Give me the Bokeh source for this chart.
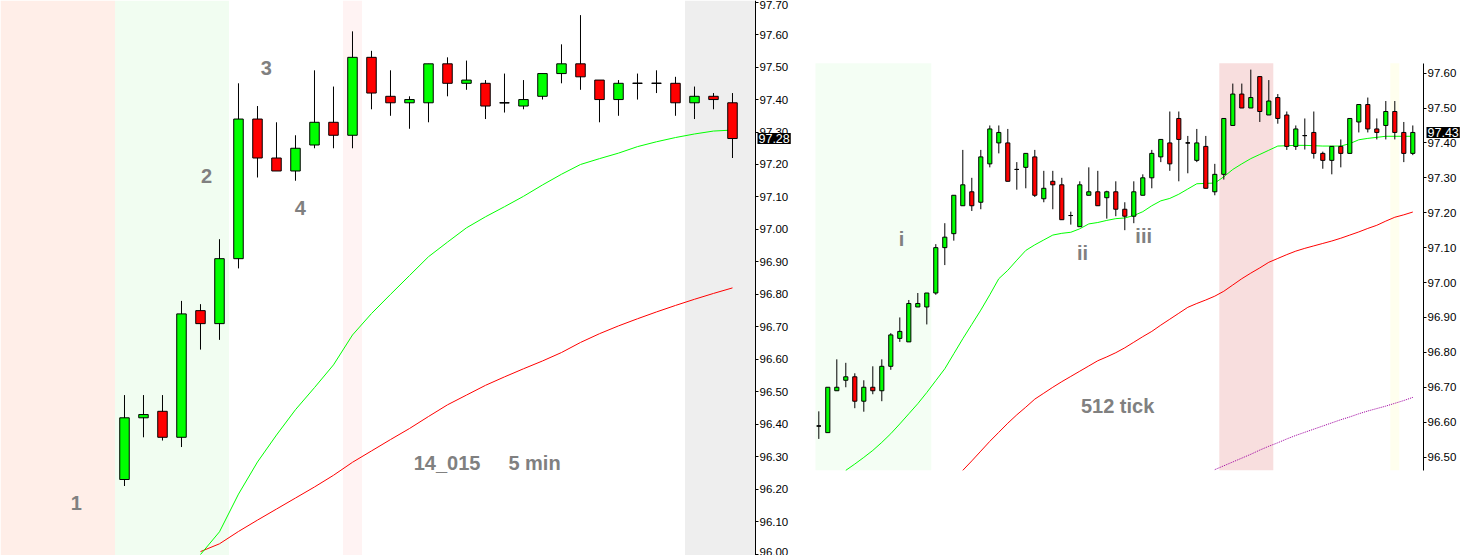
from bokeh.plotting import figure
from bokeh.models import (BoxAnnotation, Label, FixedTicker, PrintfTickFormatter,
                          Range1d, ColumnDataSource)
from bokeh.layouts import row
from bokeh.embed import file_html
from bokeh.resources import INLINE

# ---------------- data: left panel (5 min) ----------------
left_open = [96.23, 96.42, 96.44, 96.36, 96.75, 96.71, 96.91, 97.34, 97.22, 97.18, 97.26,
             97.33, 97.29, 97.53, 97.41, 97.39, 97.39, 97.51, 97.45, 97.45, 97.39, 97.38,
             97.41, 97.48, 97.51, 97.46, 97.40, 97.45, 97.45, 97.45, 97.39, 97.41, 97.39]
left_high = [96.49, 96.49, 96.49, 96.78, 96.77, 96.97, 97.45, 97.38, 97.33, 97.29, 97.49,
             97.44, 97.61, 97.55, 97.49, 97.41, 97.51, 97.53, 97.52, 97.46, 97.48, 97.46,
             97.48, 97.57, 97.66, 97.46, 97.46, 97.48, 97.49, 97.47, 97.44, 97.42, 97.42]
left_low = [96.21, 96.36, 96.35, 96.33, 96.63, 96.66, 96.88, 97.16, 97.18, 97.15, 97.25,
            97.25, 97.25, 97.37, 97.35, 97.31, 97.33, 97.41, 97.43, 97.34, 97.36, 97.37,
            97.40, 97.45, 97.43, 97.33, 97.35, 97.40, 97.42, 97.35, 97.34, 97.37, 97.22]
left_close = [96.42, 96.43, 96.36, 96.74, 96.71, 96.91, 97.34, 97.22, 97.18, 97.25, 97.33,
              97.29, 97.53, 97.42, 97.39, 97.40, 97.51, 97.45, 97.46, 97.38, 97.39, 97.40,
              97.48, 97.51, 97.47, 97.40, 97.45, 97.45, 97.45, 97.39, 97.41, 97.40, 97.28]
left_ma_start = 4
left_ma_fast = [95.999, 96.069, 96.185, 96.284, 96.367, 96.445, 96.513, 96.583, 96.675,
                96.741, 96.80, 96.858, 96.916, 96.961, 97.005, 97.039, 97.07, 97.102,
                97.137, 97.170, 97.20, 97.218, 97.235, 97.255, 97.27, 97.283, 97.294,
                97.303, 97.306]
left_ma_slow = [96.008, 96.032, 96.07, 96.105, 96.139, 96.173, 96.207, 96.243, 96.283,
                96.318, 96.353, 96.387, 96.424, 96.46, 96.49, 96.52, 96.546, 96.571,
                96.595, 96.621, 96.652, 96.679, 96.703, 96.725, 96.746, 96.766, 96.785,
                96.803, 96.82]
left_ticks = [96.0, 96.1, 96.2, 96.3, 96.4, 96.5, 96.6, 96.7, 96.8, 96.9, 97.0,
              97.1, 97.2, 97.3, 97.4, 97.5, 97.6, 97.7]
left_last = 97.28

# ---------------- data: right panel (512 tick) ----------------
right_open = [96.589, 96.57, 96.69, 96.72, 96.73, 96.66, 96.70, 96.69, 96.76, 96.84, 96.83,
              96.93, 96.93, 96.97, 97.10, 97.14, 97.22, 97.26, 97.23, 97.34, 97.40, 97.40,
              97.324, 97.33, 97.36, 97.24, 97.29, 97.28, 97.192, 97.16, 97.25, 97.26, 97.243,
              97.26, 97.21, 97.19, 97.25, 97.30, 97.36, 97.40, 97.47, 97.40, 97.35, 97.39,
              97.26, 97.31, 97.45, 97.54, 97.50, 97.59, 97.48, 97.53, 97.48, 97.39, 97.421,
              97.43, 97.37, 97.35, 97.39, 97.37, 97.46, 97.51, 97.44, 97.45, 97.49, 97.43, 97.37]
right_high = [96.631, 96.70, 96.78, 96.77, 96.74, 96.72, 96.76, 96.78, 96.855, 96.90, 96.95,
              96.97, 96.97, 97.11, 97.17, 97.25, 97.38, 97.30, 97.38, 97.45, 97.45, 97.44,
              97.345, 97.37, 97.38, 97.32, 97.32, 97.30, 97.203, 97.29, 97.33, 97.32, 97.263,
              97.29, 97.23, 97.29, 97.31, 97.38, 97.41, 97.49, 97.49, 97.42, 97.44, 97.42,
              97.34, 97.47, 97.57, 97.57, 97.61, 97.59, 97.58, 97.54, 97.49, 97.45, 97.47,
              97.49, 97.375, 97.39, 97.41, 97.47, 97.51, 97.53, 97.47, 97.52, 97.52, 97.46, 97.45]
right_low = [96.552, 96.57, 96.69, 96.70, 96.64, 96.63, 96.68, 96.66, 96.75, 96.83, 96.83,
             96.93, 96.88, 96.965, 97.05, 97.12, 97.22, 97.205, 97.21, 97.33, 97.37, 97.29,
             97.266, 97.27, 97.245, 97.23, 97.21, 97.18, 97.166, 97.16, 97.25, 97.22, 97.183,
             97.19, 97.15, 97.17, 97.25, 97.27, 97.345, 97.32, 97.29, 97.313, 97.345, 97.27,
             97.25, 97.295, 97.45, 97.50, 97.50, 97.46, 97.48, 97.455, 97.38, 97.38, 97.381,
             97.355, 97.326, 97.31, 97.33, 97.37, 97.43, 97.43, 97.41, 97.41, 97.41, 97.345, 97.365]
right_close = [96.589, 96.70, 96.70, 96.73, 96.66, 96.70, 96.69, 96.76, 96.85, 96.86, 96.94,
               96.94, 96.97, 97.10, 97.13, 97.25, 97.28, 97.22, 97.36, 97.44, 97.43, 97.29,
               97.324, 97.37, 97.25, 97.27, 97.28, 97.18, 97.192, 97.28, 97.26, 97.22, 97.26,
               97.21, 97.19, 97.26, 97.30, 97.37, 97.41, 97.34, 97.41, 97.40, 97.40, 97.27,
               97.31, 97.47, 97.54, 97.50, 97.53, 97.49, 97.52, 97.47, 97.39, 97.44, 97.421,
               97.37, 97.35, 97.39, 97.37, 97.47, 97.51, 97.44, 97.43, 97.49, 97.43, 97.37, 97.43]
right_fast_start = 3
right_ma_fast = [96.462, 96.480, 96.499, 96.519, 96.542, 96.567, 96.595, 96.624, 96.653,
                 96.685, 96.719, 96.753, 96.796, 96.839, 96.88, 96.921, 96.965, 97.011,
                 97.035, 97.064, 97.092, 97.108, 97.122, 97.136, 97.141, 97.144, 97.154,
                 97.168, 97.172, 97.178, 97.183, 97.185, 97.192, 97.203, 97.22, 97.234,
                 97.241, 97.253, 97.268, 97.283, 97.284, 97.285, 97.303, 97.324, 97.34,
                 97.355, 97.367, 97.379, 97.391, 97.392, 97.393, 97.393, 97.392, 97.391,
                 97.391, 97.391, 97.398, 97.409, 97.413, 97.416, 97.419, 97.419, 97.419, 97.419]
right_slow_start = 16
right_ma_slow = [96.462, 96.489, 96.517, 96.545, 96.571, 96.597, 96.621, 96.643, 96.666,
                 96.683, 96.70, 96.716, 96.731, 96.746, 96.761, 96.776, 96.787, 96.799,
                 96.813, 96.829, 96.845, 96.86, 96.878, 96.895, 96.912, 96.929, 96.94,
                 96.95, 96.961, 96.975, 96.993, 97.011, 97.027, 97.042, 97.058, 97.069,
                 97.08, 97.09, 97.098, 97.105, 97.112, 97.119, 97.127, 97.136, 97.145,
                 97.155, 97.164, 97.176, 97.187, 97.194, 97.202]
right_long_start = 44
right_ma_long = [96.464, 96.475, 96.486, 96.497, 96.508, 96.52, 96.531, 96.541,
                 96.552, 96.562, 96.571, 96.58, 96.589, 96.598, 96.607, 96.615, 96.624,
                 96.632, 96.639, 96.646, 96.654, 96.662, 96.671]
right_ticks = [96.5, 96.6, 96.7, 96.8, 96.9, 97.0, 97.1, 97.2, 97.3, 97.4, 97.5, 97.6]
right_last = 97.43

UP = "#00FF00"
DOWN = "#FF0000"
LABEL_GREY = "#808080"


def style_axis(p, ticks, at, bounds="auto"):
    ax = p.yaxis[0]
    ax.fixed_location = at
    ax.bounds = bounds
    ax.ticker = FixedTicker(ticks=ticks)
    ax.formatter = PrintfTickFormatter(format="%.2f")
    ax.axis_line_color = "black"
    ax.axis_line_width = 1
    ax.major_tick_line_color = "black"
    ax.major_tick_out = 3
    ax.major_tick_in = 0
    ax.minor_tick_line_color = None
    ax.major_label_text_font = "Liberation Sans"
    ax.major_label_text_font_size = "11.5px"
    ax.major_label_text_color = "black"
    ax.major_label_standoff = 1
    p.xgrid.visible = False
    p.ygrid.visible = False
    p.outline_line_color = None


def draw_candles(p, o, h, l, c, width):
    n = len(o)
    x = list(range(n))
    src = ColumnDataSource(dict(
        x=x, h=h, l=l,
        top=[max(a, b) for a, b in zip(o, c)],
        bottom=[min(a, b) for a, b in zip(o, c)],
        color=[UP if b >= a else DOWN for a, b in zip(o, c)]))
    p.segment(x0="x", y0="h", x1="x", y1="l", source=src, line_color="black", line_width=1)
    p.vbar(x="x", width=width, top="top", bottom="bottom", fill_color="color",
           line_color="black", line_width=1, source=src)
    dx = [i for i in x if o[i] == c[i]]
    if dx:
        p.segment(x0=[i - width / 2 for i in dx], y0=[o[i] for i in dx],
                  x1=[i + width / 2 for i in dx], y1=[c[i] for i in dx],
                  line_color="black", line_width=1)


def ma_line(p, start, vals, color, dash="solid"):
    xs = list(range(start, start + len(vals)))
    p.line(xs, vals, line_color=color, line_width=1, line_dash=dash)


def txt(p, x, y, s, size="20px"):
    p.add_layout(Label(x=x, y=y, text=s, text_font="Liberation Sans", text_font_style="bold",
                       text_font_size=size, text_color=LABEL_GREY, text_align="center",
                       text_baseline="middle"))


def last_box(p, xaxis_at, y, off):
    p.add_layout(Label(x=xaxis_at, y=y, x_offset=off, text="%.2f" % y,
                       text_font="Liberation Sans",
                       text_font_size="12.5px", text_color="white",
                       text_align="left", text_baseline="middle",
                       background_fill_color="black", padding=1))


# ---------------- left figure ----------------
lx0, lx1, l_axis = -6.526, 35.579, 33.21
p1 = figure(frame_width=800, frame_height=555, x_range=Range1d(lx0, lx1),
            y_range=Range1d(95.996, 97.705), y_axis_location="right", x_axis_location=None,
            output_backend="svg", toolbar_location=None,
            min_border_left=0, min_border_top=0, min_border_bottom=0, min_border_right=0,
            background_fill_color="white", border_fill_color="white")
style_axis(p1, left_ticks, l_axis)
for a, b, col in [(lx0, -0.5, "#FFEEE8"), (-0.5, 5.5, "#F1FDF1"),
                  (11.5, 12.5, "#FFF3F3"), (29.5, l_axis, "#EEEEEE")]:
    p1.add_layout(BoxAnnotation(left=a, right=b, fill_color=col, fill_alpha=1,
                                line_color=None, level="underlay"))
ma_line(p1, left_ma_start, left_ma_slow, "#FF0000")
ma_line(p1, left_ma_start, left_ma_fast, "#00FF00")
draw_candles(p1, left_open, left_high, left_low, left_close, 0.5)
txt(p1, -2.53, 96.158, "1")
txt(p1, 4.32, 97.164, "2")
txt(p1, 7.47, 97.496, "3")
txt(p1, 9.26, 97.066, "4")
txt(p1, 16.98, 96.281, "14_015")
txt(p1, 21.58, 96.281, "5 min")
last_box(p1, l_axis, left_last, 2)

# ---------------- right figure ----------------
rx0, rx1, r_axis = -2.033, 71.633, 67.189
r_bot, r_top = 96.462, 97.628
p2 = figure(frame_width=663, frame_height=555, x_range=Range1d(rx0, rx1),
            y_range=Range1d(96.218, 97.808), y_axis_location="right", x_axis_location=None,
            output_backend="svg", toolbar_location=None,
            min_border_left=0, min_border_top=0, min_border_bottom=0, min_border_right=0,
            background_fill_color="white", border_fill_color="white")
style_axis(p2, right_ticks, r_axis, (r_bot, r_top))
for a, b, col in [(-0.367, 12.5, "#F4FEF4"), (44.5, 50.5, "#F8DEDE"), (63.5, 64.5, "#FFFFEE")]:
    p2.add_layout(BoxAnnotation(left=a, right=b, bottom=r_bot, top=r_top, fill_color=col,
                                fill_alpha=1, line_color=None, level="underlay"))
ma_line(p2, right_long_start, right_ma_long, "#A000A0", "1 1")
ma_line(p2, right_slow_start, right_ma_slow, "#FF0000")
ma_line(p2, right_fast_start, right_ma_fast, "#00FF00")
draw_candles(p2, right_open, right_high, right_low, right_close, 0.46)
txt(p2, 9.19, 97.126, "i")
txt(p2, 29.3, 97.086, "ii")
txt(p2, 36.1, 97.132, "iii")
txt(p2, 33.2, 96.645, "512 tick")
last_box(p2, r_axis, right_last, 3)

layout = row(p1, p2)
open("out.html", "w").write(file_html(layout, INLINE))
